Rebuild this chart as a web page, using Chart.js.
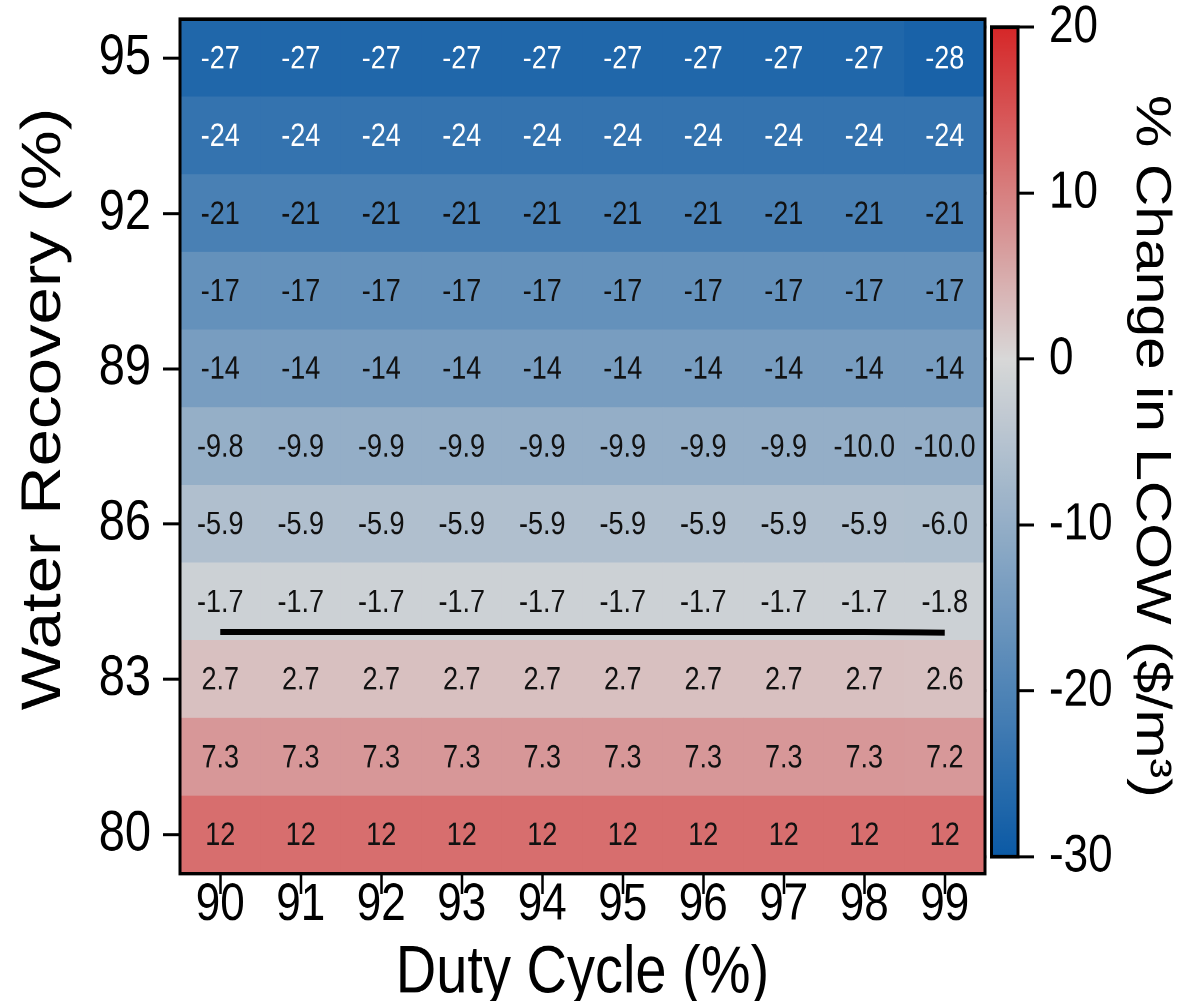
<!DOCTYPE html>
<html><head><meta charset="utf-8">
<script src="https://cdn.jsdelivr.net/npm/chart.js@4/dist/chart.umd.min.js"></script>
<style>
html,body{margin:0;padding:0;background:#fff;overflow:hidden;width:1200px;height:1001px;}
#wrap{position:absolute;left:0;top:0;width:1200px;height:834px;transform:scale(1,1.2);transform-origin:0 0;}
#c{display:block;width:1200px;height:834px;}
</style></head><body>
<div id="wrap"><canvas id="c" width="1200" height="834"></canvas></div>
<script>
// ---- data ----
const dutyCycle = [90, 91, 92, 93, 94, 95, 96, 97, 98, 99];
const waterRecovery = [80, 81.5, 83, 84.5, 86, 87.5, 89, 90.5, 92, 93.5, 95];
const recoveryTicks = [80, 83, 86, 89, 92, 95];
const colorbarTicks = [-30, -20, -10, 0, 10, 20];

const lcowAt80   = [12, 12, 12, 12, 12, 12, 12, 12, 12, 12];
const lcowAt81_5 = [7.3, 7.3, 7.3, 7.3, 7.3, 7.3, 7.3, 7.3, 7.3, 7.2];
const lcowAt83   = [2.7, 2.7, 2.7, 2.7, 2.7, 2.7, 2.7, 2.7, 2.7, 2.65];
const lcowAt84_5 = [-1.7, -1.7, -1.7, -1.7, -1.7, -1.7, -1.7, -1.7, -1.7, -1.75];
const lcowAt86   = [-5.9, -5.9, -5.9, -5.9, -5.9, -5.9, -5.9, -5.9, -5.9, -6.0];
const lcowAt87_5 = [-9.8, -9.9, -9.9, -9.9, -9.9, -9.9, -9.9, -9.9, -9.97, -9.97];
const lcowAt89   = [-14, -14, -14, -14, -14, -14, -14, -14, -14, -14];
const lcowAt90_5 = [-17, -17, -17, -17, -17, -17, -17, -17, -17, -17];
const lcowAt92   = [-21, -21, -21, -21, -21, -21, -21, -21, -21, -21];
const lcowAt93_5 = [-24, -24, -24, -24, -24, -24, -24, -24, -24, -24];
const lcowAt95   = [-27, -27, -27, -27, -27, -27, -27, -27, -27, -28];

const rows = [lcowAt80, lcowAt81_5, lcowAt83, lcowAt84_5, lcowAt86, lcowAt87_5,
              lcowAt89, lcowAt90_5, lcowAt92, lcowAt93_5, lcowAt95];

// ---- colour map (blue - grey - red, centred at 0) ----
const CMIN = -30, CMAX = 20;
const blueEnd = [11, 90, 165], mid = [216, 216, 216], redEnd = [214, 39, 40];
function cmap(v) {
  let b, t;
  if (v >= 0) { b = redEnd; t = Math.min(1, v / CMAX); }
  else { b = blueEnd; t = Math.min(1, v / CMIN); }
  const c = mid.map((x, k) => Math.round(x + (b[k] - x) * t));
  return `rgb(${c[0]},${c[1]},${c[2]})`;
}
function fmt(v) { return Math.abs(v) >= 10 ? v.toFixed(0) : v.toFixed(1); }

const half = (waterRecovery[1] - waterRecovery[0]) / 2;

// zero contour (linear interpolation between rows)
const zeroLine = dutyCycle.map((d, j) => {
  for (let i = 1; i < rows.length; i++) {
    const a = rows[i - 1][j], b = rows[i][j];
    if (a >= 0 && b < 0) return waterRecovery[i - 1] + a / (a - b) * (waterRecovery[i] - waterRecovery[i - 1]);
  }
  return null;
});

const FONT = '"Liberation Sans", Arial, Helvetica, sans-serif';
Chart.defaults.font.family = FONT;
Chart.defaults.color = '#000';

const heatPlugin = {
  id: 'heat',
  afterDatasetsDraw(chart) {
    const { ctx, scales } = chart;
    ctx.save();
    ctx.font = '27px ' + FONT;
    ctx.textAlign = 'center';
    ctx.textBaseline = 'middle';
    rows.forEach((row, i) => {
      const y = scales.y.getPixelForValue(waterRecovery[i]);
      row.forEach((v, j) => {
        const x = scales.x.getPixelForValue(j);
        ctx.fillStyle = v <= -23 ? '#ffffff' : '#111111';
        ctx.fillText(fmt(v), x, y + 1);
      });
    });
    ctx.restore();
  },
  afterDraw(chart) {
    const { ctx, chartArea: a, scales } = chart;
    ctx.save();
    ctx.strokeStyle = '#000';
    ctx.lineWidth = 3;
    ctx.strokeRect(a.left, a.top, a.right - a.left, a.bottom - a.top);
    const cb = scales.cb;
    const yTop = cb.getPixelForValue(CMAX), yBot = cb.getPixelForValue(CMIN);
    const x0 = 991.5, x1 = 1018;
    ctx.fillStyle = '#fff';
    ctx.fillRect(a.right + 1.6, yTop - 6, x1 + 1 - (a.right + 1.6), yBot - yTop + 12);
    const g = ctx.createLinearGradient(0, yBot, 0, yTop);
    for (let v = CMIN; v <= CMAX; v += 1) g.addColorStop((v - CMIN) / (CMAX - CMIN), cmap(v));
    ctx.fillStyle = g;
    ctx.fillRect(x0, yTop, x1 - x0, yBot - yTop);
    ctx.strokeRect(x0, yTop, x1 - x0, yBot - yTop);
    ctx.restore();
  }
};

const datasets = rows.map((row, i) => ({
  type: 'bar',
  data: row.map(() => [waterRecovery[i] - half, waterRecovery[i] + half]),
  backgroundColor: row.map(cmap),
  borderWidth: 0,
  grouped: false,
  barPercentage: 1,
  categoryPercentage: 1,
  order: 2
}));
datasets.push({
  type: 'line',
  data: zeroLine,
  borderColor: '#000',
  borderWidth: 5,
  borderCapStyle: 'butt',
  pointRadius: 0,
  fill: false,
  tension: 0,
  order: 0
});

function noPad(s) { s.paddingTop = 0; s.paddingBottom = 0; s.paddingLeft = 0; s.paddingRight = 0; }

new Chart(document.getElementById('c'), {
  type: 'bar',
  data: { labels: dutyCycle.map(String), datasets },
  plugins: [heatPlugin],
  options: {
    responsive: false,
    maintainAspectRatio: false,
    devicePixelRatio: 2,
    animation: false,
    events: [],
    layout: { padding: { top: 16, left: 0, right: 0, bottom: 0 } },
    plugins: { legend: { display: false }, tooltip: { enabled: false } },
    scales: {
      x: {
        type: 'category',
        offset: true,
        grid: { offset: false, drawOnChartArea: false, drawTicks: true, tickLength: 17, tickColor: '#000', tickWidth: 2.5 },
        border: { display: false },
        ticks: { color: '#000', font: { size: 44 }, padding: -17, maxRotation: 0, autoSkip: false },
        title: { display: true, text: 'Duty Cycle (%)', color: '#000', font: { size: 56, lineHeight: 0.8 }, padding: 0 },
        afterFit: s => { s.height = 106; noPad(s); }
      },
      y: {
        type: 'linear',
        position: 'left',
        min: waterRecovery[0] - half,
        max: waterRecovery[waterRecovery.length - 1] + half,
        afterBuildTicks: s => { s.ticks = recoveryTicks.map(v => ({ value: v })); },
        grid: { drawOnChartArea: false, drawTicks: true, tickLength: 17, tickColor: '#000', tickWidth: 2.5 },
        border: { display: false },
        ticks: { color: '#000', font: { size: 47 }, padding: 12 },
        title: { display: true, text: '    Water Recovery (%)', color: '#000', font: { size: 56 }, padding: { top: 11, bottom: 0 } },
        afterFit: s => { s.width = 180; noPad(s); }
      },
      cb: {
        type: 'linear',
        position: 'right',
        min: -31.02,
        max: 20.48,
        afterBuildTicks: s => { s.ticks = colorbarTicks.map(v => ({ value: v })); },
        grid: { drawOnChartArea: false, drawTicks: true, tickLength: 49, tickColor: '#000', tickWidth: 2.5 },
        border: { display: false },
        ticks: { color: '#000', font: { size: 44 }, padding: 15 },
        title: { display: true, text: '% Change in LCOW ($/m³)', color: '#000', font: { size: 49 }, padding: { top: 20, bottom: 0 } },
        afterFit: s => { s.width = 215; noPad(s); }
      }
    }
  }
});
</script>
</body></html>
